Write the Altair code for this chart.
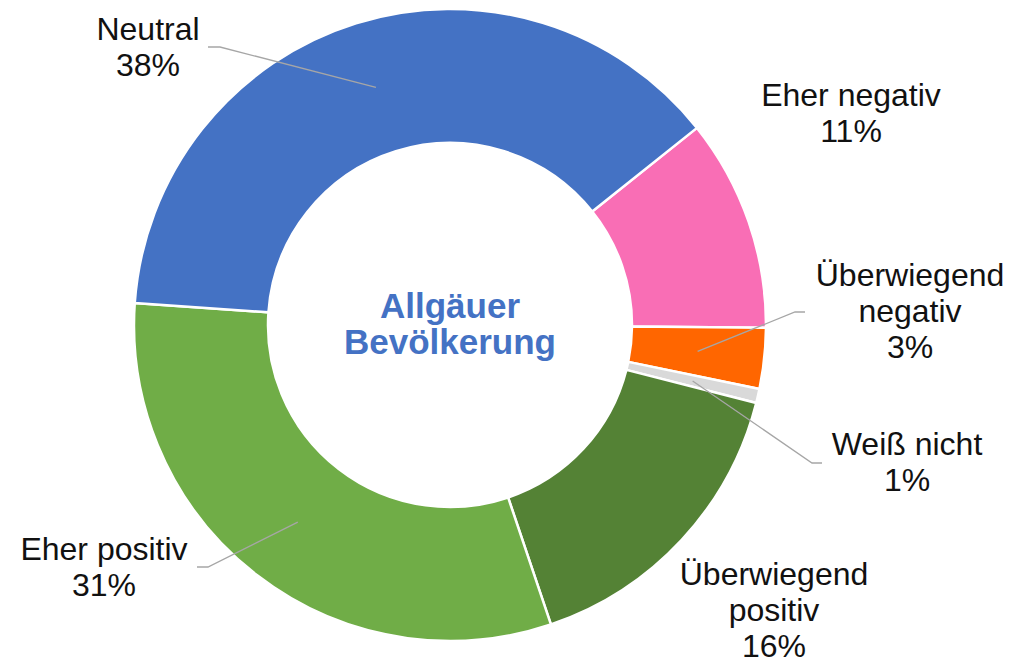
import numpy as np
import pandas as pd
import altair as alt

# ---------------- data ----------------
categories = ["Eher negativ", "Überwiegend negativ", "Weiß nicht",
              "Überwiegend positiv", "Eher positiv", "Neutral"]
shares = [10.86, 3.11, 0.72, 15.86, 31.28, 38.17]
# percentages as printed in the labels
pct_labels = ["11%", "3%", "1%", "16%", "31%", "38%"]
name_lines = [["Eher negativ"], ["Überwiegend", "negativ"], ["Weiß nicht"],
              ["Überwiegend", "positiv"], ["Eher positiv"], ["Neutral"]]
colors = ["#F96EB5", "#FF6600", "#D9D9D9", "#548235", "#70AD47", "#4472C4"]
center_title = "Allgäuer\nBevölkerung"

# ---------------- layout ----------------
W, H = 996, 658          # plot area
CX, CY = 450, 325        # ring centre on the page
R_OUT, R_IN = 316, 182
START_DEG = 51.4         # angle of first slice (clockwise from 12 o'clock)
FONT = "Liberation Sans, Arial, sans-serif"

# first-line baseline centre of each label (page coords)
label_pos = {
    "Eher negativ": (851, 106),
    "Überwiegend negativ": (910, 286),
    "Weiß nicht": (907, 455),
    "Überwiegend positiv": (774, 585),
    "Eher positiv": (104, 560),
    "Neutral": (148, 40),
}
# leader line: label end point and elbow (page coords)
leaders = {
    "Neutral": ((208, 47), (220, 47)),
    "Überwiegend negativ": ((805, 312), (795, 312)),
    "Weiß nicht": ((822, 463), (812, 463)),
    "Eher positiv": ((197, 567), (208, 567)),
}

# ---------------- tables ----------------
sh = np.array(shares, dtype=float)
cum = np.cumsum(sh)
mid_deg = START_DEG + (cum - sh / 2) / sh.sum() * 360.0
r_mid = (R_OUT + R_IN) / 2

slices = pd.DataFrame({"category": categories, "share": shares,
                       "idx": range(len(categories))})

lab_rows = []
for c, p, lines in zip(categories, pct_labels, name_lines):
    px, py = label_pos[c]
    lab_rows.append({"category": c, "x": px - CX, "y": py - CY,
                     "text": "\n".join(lines + [p])})
labels = pd.DataFrame(lab_rows)

line_rows = []
for i, c in enumerate(categories):
    if c not in leaders:
        continue
    (ex, ey), (bx, by) = leaders[c]
    a = np.deg2rad(mid_deg[i])
    line_rows += [
        {"category": c, "step": 0, "x": ex - CX, "y": ey - CY},
        {"category": c, "step": 1, "x": bx - CX, "y": by - CY},
        {"category": c, "step": 2, "x": r_mid * np.sin(a), "y": -r_mid * np.cos(a)},
    ]
leader_df = pd.DataFrame(line_rows)

center_df = pd.DataFrame({"x": [0], "y": [318 - CY], "text": [center_title]})

# ---------------- chart ----------------
xs = alt.Scale(domain=[8 - CX, 8 + W - CX], nice=False, zero=False)
ys = alt.Scale(domain=[8 - CY, 8 + H - CY], reverse=True, nice=False, zero=False)
start = np.deg2rad(START_DEG)

arc = alt.Chart(slices).mark_arc(
    innerRadius=R_IN, outerRadius=R_OUT, stroke="white", strokeWidth=2.5
).encode(
    x=alt.XDatum(0, type="quantitative", scale=xs, axis=None),
    y=alt.YDatum(0, type="quantitative", scale=ys, axis=None),
    theta=alt.Theta("share:Q", stack=True,
                    scale=alt.Scale(range=[float(start), float(start + 2 * np.pi)])),
    color=alt.Color("category:N", scale=alt.Scale(domain=categories, range=colors),
                    legend=None),
    order=alt.Order("idx:Q"),
)

lead = alt.Chart(leader_df).mark_line(color="#A6A6A6", strokeWidth=1.3).encode(
    x=alt.X("x:Q", scale=xs, axis=None),
    y=alt.Y("y:Q", scale=ys, axis=None),
    detail="category:N",
    order="step:Q",
)

text = alt.Chart(labels).mark_text(
    font=FONT, fontSize=32, lineHeight=36, align="center",
    baseline="alphabetic", color="#111111", lineBreak="\n"
).encode(
    x=alt.X("x:Q", scale=xs, axis=None),
    y=alt.Y("y:Q", scale=ys, axis=None),
    text="text:N",
)

center = alt.Chart(center_df).mark_text(
    font=FONT, fontSize=35, fontWeight="bold", lineHeight=36, align="center",
    baseline="alphabetic", color="#4472C4", lineBreak="\n"
).encode(
    x=alt.X("x:Q", scale=xs, axis=None),
    y=alt.Y("y:Q", scale=ys, axis=None),
    text="text:N",
)

chart = alt.layer(arc, lead, text, center).properties(
    width=W, height=H, padding=0,
    autosize=alt.AutoSizeParams(type="none"),
).configure_view(stroke=None)

chart.save("out.html", embed_options={"renderer": "svg", "actions": False})
